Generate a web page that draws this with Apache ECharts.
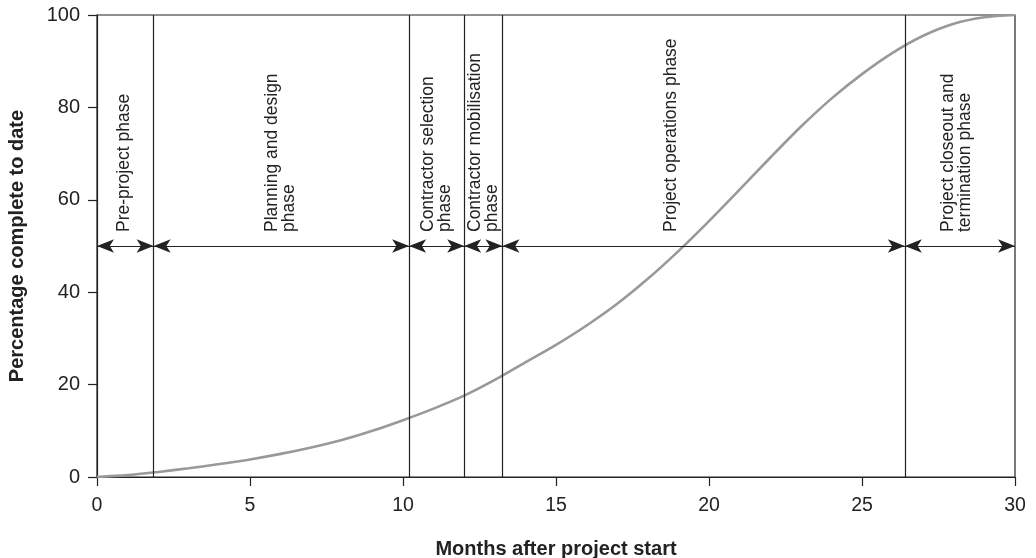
<!DOCTYPE html>
<html>
<head>
<meta charset="utf-8">
<script src="https://cdn.jsdelivr.net/npm/echarts@6/dist/echarts.min.js"></script>
<style>html,body{margin:0;padding:0;background:#fff}#c{width:1036px;height:558px}</style>
</head>
<body>
<div id="c"></div>
<script>
// Data
const months = [0,1,2,3,4,5,6,7,8,9,10,11,12,13,14,15,16,17,18,19,20,21,22,23,24,25,26,27,28,29,30];
const percentComplete = [0,0.4,1.1,1.9,2.8,3.8,5.0,6.4,8.0,10.0,12.3,14.8,17.6,21.0,24.8,28.6,32.8,37.5,42.9,48.9,55.4,62.2,69.1,75.8,81.9,87.2,91.8,95.5,98.1,99.5,100];
const phaseBoundaries = [1.85, 10.2, 12.0, 13.25, 26.4];
const phaseStart = [0, 1.85, 10.2, 12.0, 13.25, 26.4];
const phaseEnd = [1.85, 10.2, 12.0, 13.25, 26.4, 30];
const phaseNames = [
  'Pre-project phase',
  'Planning and design\nphase',
  'Contractor selection\nphase',
  'Contractor mobilisation\nphase',
  'Project operations phase',
  'Project closeout and\ntermination phase'
];
const phaseLabelAt = [0.9, 6.0, 11.1, 12.65, 18.75, 28.1];
const arrowLevel = 50;
const xTicks = [0, 5, 10, 15, 20, 25, 30];
const yTicks = [0, 20, 40, 60, 80, 100];

const FONT = '"Liberation Sans", Arial, Helvetica, sans-serif';
const chart = echarts.init(document.getElementById('c'));

const arrowPairs = phaseStart.map((s, i) => [
  { coord: [s, arrowLevel] }, { coord: [phaseEnd[i], arrowLevel] }
]);

chart.setOption({
  animation: false,
  backgroundColor: '#fff',
  grid: { left: 97, right: 21, top: 15, bottom: 81, containLabel: false, outerBoundsMode: 'none',
          show: true, borderColor: '#222', borderWidth: 1.2, backgroundColor: 'transparent' },
  xAxis: {
    type: 'value', min: xTicks[0], max: xTicks[xTicks.length-1], interval: 5,
    name: 'Months after project start', nameLocation: 'middle', nameGap: 62,
    nameTextStyle: { fontFamily: FONT, fontSize: 20, fontWeight: 'bold', color: '#222' },
    axisLine: { lineStyle: { color: '#222', width: 1.2 } },
    axisTick: { show: true, length: 9, lineStyle: { color: '#222', width: 1.2 } },
    axisLabel: { fontFamily: FONT, fontSize: 19.5, color: '#222', margin: 19 },
    splitLine: { show: false }
  },
  yAxis: {
    type: 'value', min: yTicks[0], max: yTicks[yTicks.length-1], interval: 20,
    name: 'Percentage complete to date', nameLocation: 'middle', nameGap: 70,
    nameTextStyle: { fontFamily: FONT, fontSize: 20, fontWeight: 'bold', color: '#222' },
    axisLine: { show: true, lineStyle: { color: '#222', width: 1.2 } },
    axisTick: { show: true, length: 9, lineStyle: { color: '#222', width: 1.2 } },
    axisLabel: { fontFamily: FONT, fontSize: 20, color: '#222', margin: 17 },
    splitLine: { show: false }
  },
  series: [
    {
      type: 'line', smooth: 0.3, showSymbol: false, silent: true,
      data: months.map((m, i) => [m, percentComplete[i]]),
      lineStyle: { color: '#999', width: 2.6 },
      z: 3,
      markLine: {
        silent: true, symbol: 'none', animation: false,
        label: { show: false },
        lineStyle: { color: '#222', width: 1.2, type: 'solid' },
        data: phaseBoundaries.map(b => ({ xAxis: b }))
      }
    },
    {
      type: 'line', data: [], silent: true,
      markLine: {
        silent: true, animation: false,
        symbol: ['arrow', 'arrow'], symbolSize: [10, 17],
        label: { show: false },
        lineStyle: { color: '#222', width: 1.2, type: 'solid' },
        itemStyle: { color: '#222' },
        data: arrowPairs
      }
    },
    {
      type: 'custom', silent: true,
      data: phaseLabelAt.map((x, i) => [x, arrowLevel, i]),
      renderItem: function (params, api) {
        const p = api.coord([api.value(0), api.value(1)]);
        const idx = api.value(2);
        return {
          type: 'text',
          x: p[0], y: p[1] - 14,
          rotation: Math.PI / 2,
          style: {
            text: phaseNames[idx],
            fontFamily: FONT, fontSize: 17.5, lineHeight: 17,
            fill: '#222',
            align: 'left', verticalAlign: 'middle'
          }
        };
      }
    }
  ]
});
</script>
</body>
</html>
